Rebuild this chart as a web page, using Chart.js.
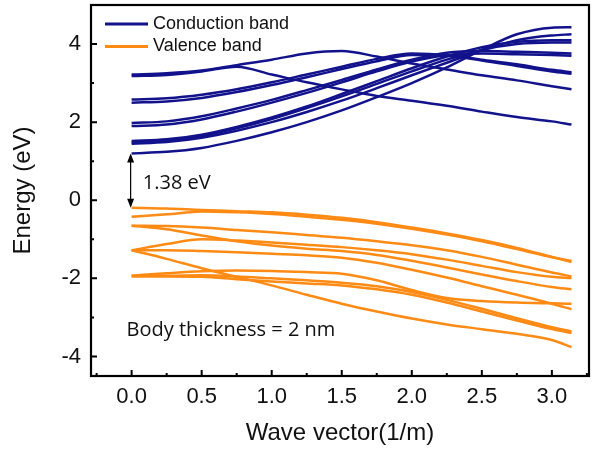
<!DOCTYPE html>
<html>
<head>
<meta charset="utf-8">
<script src="https://cdn.jsdelivr.net/npm/chart.js@4.4.1/dist/chart.umd.min.js"></script>
<style>
  html, body { margin: 0; padding: 0; background: #fff; }
  #wrap { width: 596px; height: 452px; }
</style>
</head>
<body>
<div id="wrap"><canvas id="bandChart"></canvas></div>
<script>
// wave vector sample points (1/m), shared by every band
var waveVector = [0, 0.25, 0.5, 0.75, 1.0, 1.25, 1.5, 1.75, 2.0, 2.25, 2.5, 2.75, 3.0, 3.14];

// conduction bands (eV)
var cb1  = [3.22, 3.25, 3.32, 3.46, 3.60, 3.76, 3.82, 3.68, 3.50, 3.35, 3.20, 3.07, 2.92, 2.84];
var cb2  = [3.18, 3.21, 3.30, 3.42, 3.22, 3.02, 2.84, 2.67, 2.55, 2.42, 2.27, 2.13, 2.02, 1.94];
var cb3  = [2.58, 2.61, 2.70, 2.84, 3.02, 3.22, 3.42, 3.62, 3.76, 3.72, 3.60, 3.48, 3.34, 3.28];
var cb4  = [2.50, 2.53, 2.62, 2.77, 2.95, 3.15, 3.36, 3.56, 3.72, 3.70, 3.58, 3.44, 3.30, 3.24];
var cb5  = [1.98, 2.02, 2.15, 2.35, 2.57, 2.82, 3.08, 3.35, 3.60, 3.78, 3.82, 3.80, 3.78, 3.76];
var cb6  = [1.90, 1.94, 2.07, 2.27, 2.50, 2.75, 3.02, 3.30, 3.55, 3.72, 3.76, 3.74, 3.72, 3.70];
var cb7  = [1.52, 1.56, 1.68, 1.88, 2.12, 2.40, 2.72, 3.05, 3.38, 3.68, 3.92, 4.06, 4.10, 4.10];
var cb8  = [1.48, 1.52, 1.64, 1.84, 2.08, 2.36, 2.66, 2.98, 3.30, 3.60, 3.85, 4.00, 4.04, 4.04];
var cb9  = [1.45, 1.49, 1.60, 1.78, 2.00, 2.26, 2.55, 2.87, 3.20, 3.52, 3.84, 4.10, 4.22, 4.25];
var cb10 = [1.20, 1.24, 1.34, 1.52, 1.74, 2.00, 2.30, 2.64, 3.00, 3.40, 3.85, 4.25, 4.42, 4.43];

// valence bands (eV)
var vb1  = [-0.19, -0.21, -0.25, -0.28, -0.31, -0.37, -0.45, -0.56, -0.70, -0.85, -1.02, -1.22, -1.45, -1.58];
var vb2  = [-0.42, -0.36, -0.29, -0.31, -0.35, -0.42, -0.50, -0.60, -0.73, -0.88, -1.05, -1.25, -1.46, -1.55];
var vb3  = [-0.65, -0.66, -0.70, -0.76, -0.82, -0.89, -0.96, -1.05, -1.15, -1.28, -1.45, -1.65, -1.85, -1.95];
var vb4  = [-0.65, -0.74, -0.90, -1.05, -1.16, -1.24, -1.30, -1.40, -1.55, -1.72, -1.90, -2.07, -2.22, -2.28];
var vb5  = [-1.28, -1.12, -1.00, -1.03, -1.08, -1.14, -1.20, -1.28, -1.38, -1.52, -1.68, -1.84, -1.96, -1.99];
var vb6  = [-1.28, -1.28, -1.30, -1.33, -1.37, -1.41, -1.47, -1.60, -1.78, -1.98, -2.20, -2.42, -2.65, -2.79];
var vb7  = [-1.28, -1.50, -1.74, -1.96, -2.18, -2.42, -2.65, -2.85, -3.03, -3.18, -3.30, -3.42, -3.58, -3.76];
var vb8  = [-1.93, -1.87, -1.82, -1.80, -1.81, -1.84, -1.88, -2.05, -2.30, -2.50, -2.58, -2.62, -2.64, -2.65];
var vb9  = [-1.93, -1.93, -1.92, -1.95, -2.00, -2.05, -2.11, -2.20, -2.35, -2.55, -2.78, -3.02, -3.25, -3.36];
var vb10 = [-1.95, -1.95, -1.96, -2.02, -2.08, -2.13, -2.18, -2.28, -2.42, -2.62, -2.85, -3.08, -3.30, -3.40];

var conductionBands = [cb1, cb2, cb3, cb4, cb5, cb6, cb7, cb8, cb9, cb10];
var valenceBands = [vb1, vb2, vb3, vb4, vb5, vb6, vb7, vb8, vb9, vb10];

// tick labels
var xTickValues = [0, 0.5, 1.0, 1.5, 2.0, 2.5, 3.0];
var yTickValues = [-4, -2, 0, 2, 4];
var xMinorTicks = [-0.25, 0.25, 0.75, 1.25, 1.75, 2.25, 2.75, 3.25];
var yMinorTicks = [-3, -1, 1, 3];

var bandGap = 1.38;
var legendNames = ['Conduction band', 'Valence band'];

var navy = '#12128c';
var orange = '#ff8a14';
var axisFont = '"Liberation Sans", Arial';

function toPoints(band) {
    return band.map(function(e, i) { return { x: waveVector[i], y: e }; });
}

var datasets = [];
conductionBands.forEach(function(b) {
    datasets.push({ data: toPoints(b), borderColor: navy, borderWidth: 2.5,
        pointRadius: 0, fill: false, cubicInterpolationMode: 'monotone' });
});
valenceBands.forEach(function(b) {
    datasets.push({ data: toPoints(b), borderColor: orange, borderWidth: 2.5,
        pointRadius: 0, fill: false, cubicInterpolationMode: 'monotone' });
});

// drop the half-label padding chart.js reserves at the scale ends
function noEndPadding(s) {
    s.paddingTop = 0; s.paddingBottom = 0;
    s.paddingLeft = 0; s.paddingRight = 0;
}

// frame, inward ticks, gap arrow, texts and legend
var decorPlugin = {
    id: 'decor',
    afterDraw: function(chart) {
        var ctx = chart.ctx, a = chart.chartArea;
        var xs = chart.scales.x, ys = chart.scales.y;
        ctx.save();
        ctx.strokeStyle = '#000';
        ctx.lineWidth = 2.2;
        ctx.strokeRect(a.left, a.top, a.right - a.left, a.bottom - a.top);

        ctx.lineWidth = 2;
        ctx.beginPath();
        xTickValues.forEach(function(v) {
            var px = xs.getPixelForValue(v);
            ctx.moveTo(px, a.bottom); ctx.lineTo(px, a.bottom - 6);
        });
        xMinorTicks.forEach(function(v) {
            var px = xs.getPixelForValue(v);
            ctx.moveTo(px, a.bottom); ctx.lineTo(px, a.bottom - 3);
        });
        yTickValues.forEach(function(v) {
            var py = ys.getPixelForValue(v);
            ctx.moveTo(a.left, py); ctx.lineTo(a.left + 6, py);
        });
        yMinorTicks.forEach(function(v) {
            var py = ys.getPixelForValue(v);
            ctx.moveTo(a.left, py); ctx.lineTo(a.left + 3, py);
        });
        ctx.stroke();

        // band gap arrow at k = 0
        var ax = xs.getPixelForValue(0) - 1;
        var yTop = ys.getPixelForValue(cb10[0]);
        var yBot = ys.getPixelForValue(vb1[0]);
        ctx.lineWidth = 1.2;
        ctx.beginPath();
        ctx.moveTo(ax, yTop + 2); ctx.lineTo(ax, yBot - 2);
        ctx.stroke();
        ctx.fillStyle = '#000';
        ctx.beginPath();
        ctx.moveTo(ax, yTop); ctx.lineTo(ax - 3.5, yTop + 9); ctx.lineTo(ax + 3.5, yTop + 9);
        ctx.closePath(); ctx.fill();
        ctx.beginPath();
        ctx.moveTo(ax, yBot); ctx.lineTo(ax - 3.5, yBot - 9); ctx.lineTo(ax + 3.5, yBot - 9);
        ctx.closePath(); ctx.fill();

        ctx.font = '20px "Open Sans"';
        ctx.textBaseline = 'middle';
        ctx.textAlign = 'left';
        ctx.fillStyle = '#111';
        ctx.fillText(bandGap.toFixed(2) + ' eV', xs.getPixelForValue(0.08), ys.getPixelForValue(0.44));
        ctx.fillText('Body thickness = 2 nm', xs.getPixelForValue(-0.036), ys.getPixelForValue(-3.33));

        // legend
        var colors = [navy, orange];
        ctx.font = '18px ' + axisFont;
        legendNames.forEach(function(name, i) {
            var ly = a.top + 19 + i * 22.5;
            ctx.strokeStyle = colors[i];
            ctx.lineWidth = 3;
            ctx.beginPath();
            ctx.moveTo(a.left + 14, ly); ctx.lineTo(a.left + 57, ly);
            ctx.stroke();
            ctx.fillStyle = '#111';
            ctx.fillText(name, a.left + 62, ly);
        });
        ctx.restore();
    }
};

var ctxBand = document.getElementById('bandChart').getContext('2d');
new Chart(ctxBand, {
    type: 'line',
    data: { datasets: datasets },
    options: {
        responsive: true,
        maintainAspectRatio: false,
        animation: false,
        layout: { padding: { left: 0, right: 7, top: 5, bottom: 0 } },
        plugins: { legend: { display: false }, tooltip: { enabled: false } },
        scales: {
            x: {
                type: 'linear',
                min: -0.29,
                max: 3.265,
                grid: { display: false, drawTicks: false },
                border: { display: false },
                afterBuildTicks: function(s) {
                    s.ticks = xTickValues.map(function(v) { return { value: v }; });
                },
                afterFit: function(s) { s.height = 76; noEndPadding(s); },
                ticks: {
                    padding: 8,
                    color: '#111',
                    font: { family: axisFont, size: 22 },
                    callback: function(v) { return v.toFixed(1); }
                },
                title: {
                    display: true,
                    text: 'Wave vector(1/m)',
                    color: '#111',
                    font: { family: axisFont, size: 24 },
                    padding: { top: 0, bottom: 4 }
                }
            },
            y: {
                min: -4.5,
                max: 5,
                grid: { display: false, drawTicks: false },
                border: { display: false },
                afterBuildTicks: function(s) {
                    s.ticks = yTickValues.map(function(v) { return { value: v }; });
                },
                afterFit: function(s) { s.width = 91; noEndPadding(s); },
                ticks: {
                    padding: 10,
                    color: '#111',
                    font: { family: axisFont, size: 22 },
                    callback: function(v) { return String(v); }
                },
                title: {
                    display: true,
                    text: 'Energy (eV)',
                    color: '#111',
                    font: { family: axisFont, size: 24 },
                    padding: { top: 9, bottom: 0 }
                }
            }
        }
    },
    plugins: [decorPlugin]
});
</script>
</body>
</html>
